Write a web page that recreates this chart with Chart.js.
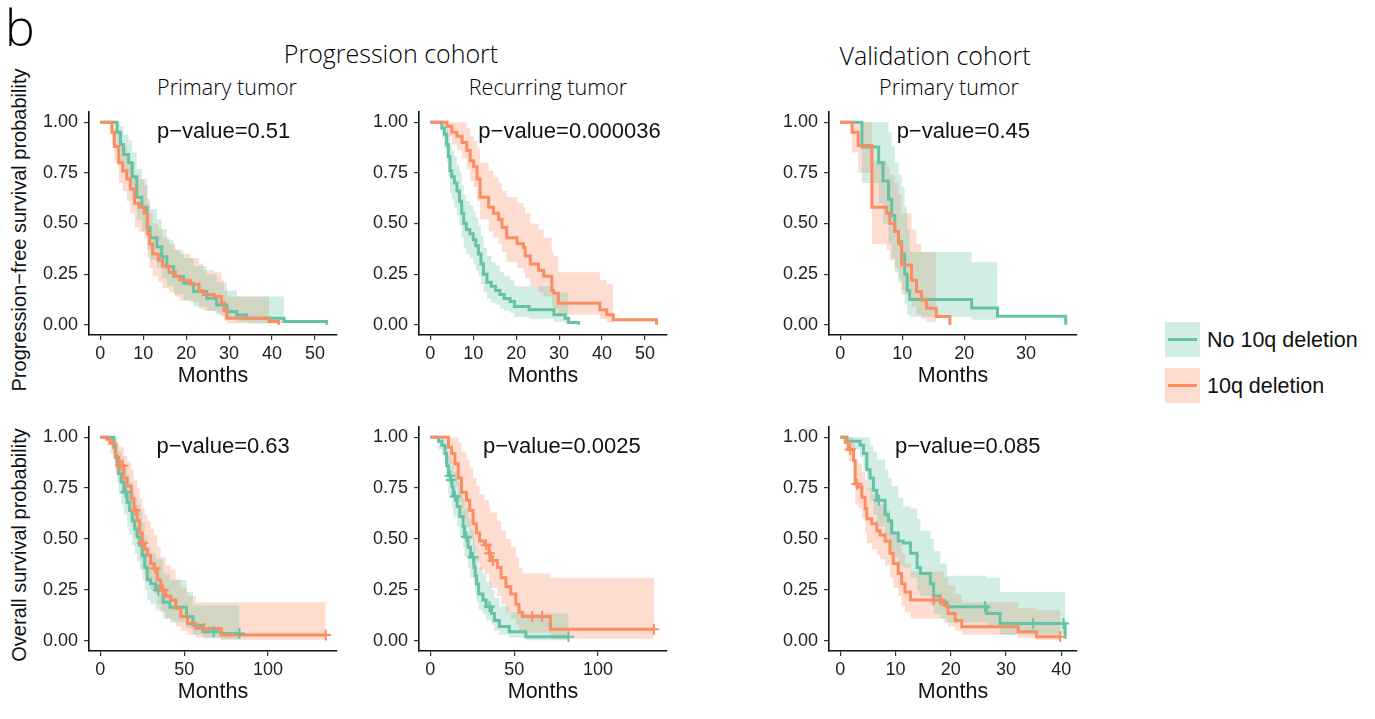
<!DOCTYPE html>
<html>
<head>
<meta charset="utf-8">
<script src="https://cdn.jsdelivr.net/npm/chart.js@4.4.0/dist/chart.umd.min.js"></script>
<style>
  body { margin: 0; background: #fff; }
  #page { position: relative; width: 1375px; height: 719px; overflow: hidden; background: #fff;
          font-family: "Liberation Sans", Arial, sans-serif; color: #111; }
  .txt { position: absolute; white-space: nowrap; transform: translate(-50%, -50%); }
  .head { font-family: "Open Sans", sans-serif; font-weight: 300; color: #000; }
  .rot { transform: translate(-50%, -50%) rotate(-90deg); }
  canvas { position: absolute; }
  .lgbox { position: absolute; width: 35px; height: 35px; }
  .lgline { position: absolute; left: 3px; top: 16px; width: 29px; height: 3px; }
</style>
</head>
<body>
<div id="page">
  <div class="txt head" style="left:20px;top:27px;font-size:50px;">b</div>
  <div class="txt head" style="left:391px;top:53px;font-size:25px;">Progression cohort</div>
  <div class="txt head" style="left:935px;top:55px;font-size:25px;">Validation cohort</div>
  <div class="txt head" style="left:227px;top:86px;font-size:21.5px;">Primary tumor</div>
  <div class="txt head" style="left:548px;top:86px;font-size:21.5px;">Recurring tumor</div>
  <div class="txt head" style="left:949px;top:86px;font-size:21.5px;">Primary tumor</div>
  <div class="txt rot" style="left:19px;top:230px;font-size:20px;">Progression−free survival probability</div>
  <div class="txt rot" style="left:19px;top:545px;font-size:20px;">Overall survival probability</div>

  <div class="lgbox" style="left:1165px;top:322px;background:rgba(102,194,165,0.3);"><div class="lgline" style="background:#66C2A5;"></div></div>
  <div class="txt" style="left:1207px;top:340px;font-size:21.5px;transform:translate(0,-50%);">No 10q deletion</div>
  <div class="lgbox" style="left:1165px;top:368px;background:rgba(252,141,98,0.3);"><div class="lgline" style="background:#FC8D62;"></div></div>
  <div class="txt" style="left:1207px;top:386px;font-size:21.5px;transform:translate(0,-50%);">10q deletion</div>
</div>
<script>
// COLORES
const GREEN = "#66C2A5", ORANGE = "#FC8D62";
const GREEN_BAND = "rgba(102,194,165,0.3)", ORANGE_BAND = "rgba(252,141,98,0.3)";

// EJES
const yTicks = [0, 0.25, 0.5, 0.75, 1];
const yTickLabels = ["0.00", "0.25", "0.50", "0.75", "1.00"];
const xTicks50 = [0, 10, 20, 30, 40, 50];
const xTicks30 = [0, 10, 20, 30];
const xTicks100 = [0, 50, 100];
const xTicks40 = [0, 10, 20, 30, 40];
const pValues = ["0.51", "0.000036", "0.45", "0.63", "0.0025", "0.085"];

// PANEL 1: progression cohort, primary tumor, PFS
const p1NoT = [0,3.9,4.7,5.4,6.6,7.4,8.5,9.7,10.9,11.6,13.2,14.3,15.5,17.1,19.4,21.7,24.8,27.1,29.5,31.8,34.1,42.8,52.7];
const p1NoS = [1,.95,.89,.84,.80,.73,.63,.58,.48,.43,.385,.336,.287,.238,.205,.164,.131,.098,.066,.049,.033,.016,0];
const p1NoU = [1,1,.98,.94,.91,.85,.77,.72,.62,.57,.52,.47,.42,.37,.33,.29,.25,.21,.17,.14,.14,.12,null];
const p1NoL = [1,.89,.81,.75,.70,.62,.52,.46,.37,.32,.28,.23,.19,.15,.12,.09,.07,.05,.025,.015,.008,.004,null];
const p1DelT = [0,2.7,3.3,4.3,5.2,6.2,7.0,8.0,9.0,10.2,11.0,11.5,12.2,13.5,14.5,16.0,17.5,18.5,21.0,23.0,24.0,26.5,28.2,28.8,29.5,39.3,41.5];
const p1DelS = [1,.95,.88,.80,.76,.72,.67,.60,.58,.55,.45,.40,.35,.32,.29,.26,.24,.22,.20,.17,.15,.14,.11,.07,.033,.016,0];
const p1DelU = [1,1,.97,.91,.88,.84,.80,.74,.72,.69,.60,.55,.50,.47,.43,.40,.37,.35,.33,.30,.27,.26,.22,.17,.14,.14,null];
const p1DelL = [1,.89,.80,.70,.66,.61,.55,.48,.46,.43,.33,.28,.24,.21,.18,.16,.14,.12,.11,.08,.07,.06,.04,.02,.008,.003,null];

// PANEL 2: progression cohort, recurring tumor, PFS
const p2NoT = [0,2.7,3.3,3.8,4.2,4.6,5.0,5.6,6.2,6.8,7.3,7.8,8.4,9.2,10.0,10.6,11.2,11.8,12.4,13.2,14.2,15.2,16.2,17.2,18.6,19.6,23.0,28.8,31.4,32.2,34.5];
const p2NoS = [1,.97,.94,.89,.83,.76,.73,.70,.66,.61,.55,.50,.47,.45,.42,.39,.35,.30,.25,.21,.19,.17,.15,.13,.115,.09,.074,.05,.033,.012,0];
const p2NoU = [1,1,1,.98,.94,.89,.86,.83,.79,.75,.69,.64,.61,.59,.56,.53,.49,.44,.38,.34,.31,.29,.26,.24,.22,.19,.19,.16,.16,.15,null];
const p2NoL = [1,.92,.87,.80,.73,.65,.62,.58,.54,.49,.43,.38,.35,.33,.30,.27,.24,.20,.16,.13,.11,.10,.08,.07,.06,.04,.03,.015,.005,.002,null];
const p2DelT = [0,3.9,5.0,6.2,7.4,8.5,9.3,10.1,10.9,11.6,13.6,14.7,15.9,16.7,17.8,20.2,21.7,22.1,23.3,25.2,26.4,28.3,28.7,29.8,39.5,41.1,42.6,52.7];
const p2DelS = [1,.98,.95,.93,.90,.86,.81,.78,.72,.63,.58,.55,.52,.48,.43,.40,.38,.34,.30,.27,.24,.17,.156,.107,.074,.05,.025,0];
const p2DelU = [1,1,1,1,1,.97,.93,.91,.87,.80,.76,.73,.70,.66,.63,.60,.58,.55,.50,.47,.43,.36,.34,.26,.22,.20,.18,null];
const p2DelL = [1,.93,.89,.86,.82,.77,.71,.68,.61,.52,.46,.43,.40,.36,.31,.28,.26,.23,.19,.16,.14,.09,.08,.05,.03,.012,.004,null];

// PANEL 3: validation cohort, primary tumor, PFS
const p3NoT = [0,3.5,6.2,6.9,7.8,8.3,8.8,9.4,9.9,10.4,10.8,11.2,21.2,25.4,36.4];
const p3NoS = [1,.877,.80,.71,.62,.54,.46,.41,.35,.25,.17,.125,.083,.042,0];
const p3NoU = [1,1,1,1,.95,.88,.80,.74,.68,.58,.47,.36,.31,.2,null];
const p3NoL = [1,.70,.60,.50,.40,.33,.26,.21,.17,.10,.05,.04,.025,.01,null];
const p3DelT = [0,1.9,2.9,5.1,7.5,8.0,8.8,9.4,9.9,11.5,12.3,13.1,13.9,15.5,17.7];
const p3DelS = [1,.95,.885,.58,.55,.50,.46,.40,.295,.22,.164,.123,.082,.041,0];
const p3DelU = [1,1,1,.81,.78,.74,.70,.64,.55,.47,.40,.36,.36,.30,null];
const p3DelL = [1,.85,.75,.40,.37,.32,.28,.23,.15,.09,.05,.03,.015,.005,null];

// PANEL 4: progression cohort, primary tumor, OS
const p4NoT = [0,8,9,10,11,12.5,14,16,17.5,19,20.5,22,23.5,25,26.5,28,30,33,37.5,41.5,51.4,55.3,61.3,72,83];
const p4NoS = [1,.95,.91,.87,.82,.78,.73,.68,.64,.59,.55,.51,.47,.42,.36,.30,.28,.25,.19,.165,.12,.077,.045,.036,.036];
const p4NoU = [1,1,1,.97,.93,.90,.86,.82,.78,.74,.70,.67,.63,.58,.52,.46,.43,.40,.33,.30,.24,.175,.175,.175,.175];
const p4NoL = [1,.90,.84,.78,.72,.67,.62,.56,.52,.47,.43,.39,.35,.30,.25,.20,.18,.15,.11,.09,.06,.03,.012,.008,.008];
const p4NoCensT = [15.2, 34.6, 67.6, 83];
const p4NoCensS = [.73, .25, .045, .036];
const p4DelT = [0,4,6,9,11,14,16,18.5,20,22,23.5,25,26.5,28,30,32,34,36,39,42,45,48,52,57,72,134.4];
const p4DelS = [1,.99,.97,.90,.86,.80,.76,.70,.64,.59,.53,.48,.45,.42,.38,.355,.30,.25,.22,.20,.16,.12,.085,.06,.028,.028];
const p4DelU = [1,1,1,.97,.95,.91,.88,.84,.79,.75,.70,.65,.62,.59,.55,.52,.46,.41,.37,.35,.30,.26,.22,.19,.19,.19];
const p4DelL = [1,.96,.92,.82,.77,.70,.65,.58,.51,.46,.40,.35,.32,.29,.25,.23,.18,.14,.11,.10,.07,.05,.03,.015,.005,.005];
const p4DelCensT = [12, 13.5, 21, 25.3, 32.6, 37.5, 62, 134.4];
const p4DelCensS = [.86, .86, .64, .48, .355, .25, .06, .028];

// PANEL 5: progression cohort, recurring tumor, OS
const p5NoT = [0,4.9,6.9,8.8,9.8,10.8,12.2,13.0,13.7,16.0,17.6,19.6,20.4,22.5,24.0,26.0,26.8,27.6,28.8,31.4,33.3,36.5,38.2,41.2,47.1,56.9,82.4];
const p5NoS = [1,.98,.96,.92,.86,.81,.79,.755,.71,.66,.61,.56,.51,.46,.41,.36,.32,.28,.23,.20,.167,.134,.10,.07,.044,.02,.02];
const p5NoU = [1,1,1,.99,.95,.91,.89,.86,.83,.78,.74,.70,.65,.60,.55,.50,.46,.42,.36,.33,.29,.25,.21,.17,.14,.134,.134];
const p5NoL = [1,.94,.91,.86,.78,.72,.70,.66,.61,.56,.51,.46,.41,.36,.31,.27,.23,.19,.15,.13,.10,.08,.05,.03,.015,.003,.003];
const p5NoCensT = [11.8, 12.5, 14.7, 21.6, 25.5, 35.3, 82.4];
const p5NoCensS = [.81, .79, .71, .51, .41, .167, .02];
const p5DelT = [0,10.8,12.7,14.7,16.7,18.6,21.6,23.5,25.5,27.5,29.4,32.4,35.0,35.8,40,42.2,45.1,48.0,51.0,52.9,54.9,71.6,133.3];
const p5DelS = [1,.95,.92,.87,.80,.73,.69,.64,.575,.53,.49,.47,.43,.395,.36,.31,.265,.23,.18,.14,.12,.057,.057];
const p5DelU = [1,1,1,1,.97,.93,.89,.85,.80,.76,.72,.69,.66,.63,.59,.54,.50,.46,.41,.36,.33,.31,.31];
const p5DelL = [1,.87,.82,.76,.68,.60,.56,.50,.44,.39,.35,.33,.29,.26,.22,.18,.14,.11,.08,.05,.04,.01,.01];
const p5DelCensT = [33.3, 35.3, 37.3, 60.8, 66.7, 133.3];
const p5DelCensS = [.47, .43, .395, .12, .12, .057];

// PANEL 6: validation cohort, primary tumor, OS
const p6NoT = [0,1.2,3.6,4.2,4.8,5.4,6.0,6.6,8.1,8.7,9.3,10.5,11.4,12.7,13.9,14.5,16.3,16.9,18.1,19.3,26.5,28.9,40.7];
const p6NoS = [1,.98,.96,.92,.84,.80,.74,.69,.62,.59,.53,.49,.48,.43,.36,.33,.28,.22,.19,.167,.134,.085,.01];
const p6NoU = [1,1,1,1,1,.96,.93,.89,.84,.80,.76,.70,.66,.65,.60,.54,.50,.44,.38,.32,.31,.24,.24];
const p6NoL = [1,.94,.90,.84,.74,.69,.62,.56,.51,.47,.41,.37,.36,.31,.25,.22,.18,.13,.11,.09,.07,.03,.01];
const p6NoCensT = [7.0, 26.2, 34.9, 40.4];
const p6NoCensS = [.69, .167, .085, .085];
const p6DelT = [0,0.9,1.5,2.4,2.7,3.3,3.9,4.5,4.8,5.7,6.6,7.2,8.1,9.0,9.6,10.5,11.1,11.7,12.7,18.7,19.5,20.8,22.0,32.2,35.5,39.8];
const p6DelS = [1,.975,.94,.885,.77,.755,.705,.65,.60,.575,.54,.52,.49,.43,.38,.33,.28,.24,.20,.175,.134,.10,.069,.044,.02,.02];
const p6DelU = [1,1,1,.96,.88,.87,.83,.79,.75,.72,.69,.67,.64,.58,.53,.48,.43,.38,.34,.31,.27,.23,.19,.16,.15,.15];
const p6DelL = [1,.93,.88,.81,.67,.65,.60,.53,.48,.45,.42,.40,.37,.31,.26,.22,.17,.14,.11,.09,.07,.05,.03,.015,.004,.004];
const p6DelCensT = [1.8, 3.0, 16.9, 18.1, 39.8];
const p6DelCensS = [.94, .77, .20, .20, .02];

// MEDIDAS (area del grafico en px de la pagina)
const YW = 60, XH = 55, PT = 20, PR = 12;
const FONT = '"Liberation Sans", Arial, sans-serif';

const panels = [
  { box: [89, 112, 337, 335], xr: [-2.625, 55.125], ticks: xTicks50, p: 0, at: [13.2, 0.952],
    no: [p1NoT, p1NoS, p1NoU, p1NoL, [], []], del: [p1DelT, p1DelS, p1DelU, p1DelL, [], []] },
  { box: [419, 112, 667, 335], xr: [-2.625, 55.125], ticks: xTicks50, p: 1, at: [11.2, 0.952],
    no: [p2NoT, p2NoS, p2NoU, p2NoL, [], []], del: [p2DelT, p2DelS, p2DelU, p2DelL, [], []] },
  { box: [829, 112, 1077, 335], xr: [-1.82, 38.22], ticks: xTicks30, p: 2, at: [9.1, 0.952],
    no: [p3NoT, p3NoS, p3NoU, p3NoL, [], []], del: [p3DelT, p3DelS, p3DelU, p3DelL, [], []] },
  { box: [89, 427, 337, 651], xr: [-6.72, 141.12], ticks: xTicks100, p: 3, at: [33.5, 0.952],
    no: [p4NoT, p4NoS, p4NoU, p4NoL, p4NoCensT, p4NoCensS], del: [p4DelT, p4DelS, p4DelU, p4DelL, p4DelCensT, p4DelCensS] },
  { box: [419, 427, 667, 651], xr: [-6.72, 141.12], ticks: xTicks100, p: 4, at: [31.4, 0.952],
    no: [p5NoT, p5NoS, p5NoU, p5NoL, p5NoCensT, p5NoCensS], del: [p5DelT, p5DelS, p5DelU, p5DelL, p5DelCensT, p5DelCensS] },
  { box: [829, 427, 1077, 651], xr: [-2.04, 42.84], ticks: xTicks40, p: 5, at: [9.9, 0.952],
    no: [p6NoT, p6NoS, p6NoU, p6NoL, p6NoCensT, p6NoCensS], del: [p6DelT, p6DelS, p6DelU, p6DelL, p6DelCensT, p6DelCensS] }
];

function pts(T, V) {
  return T.map((t, i) => ({ x: t, y: V[i] }));
}

// TEXTO DEL P-VALUE
const pvalPlugin = {
  id: "pval",
  afterDraw(chart, args, opts) {
    const { ctx, scales } = chart;
    ctx.save();
    ctx.font = "22px " + FONT;
    ctx.fillStyle = "#111";
    ctx.textAlign = "left";
    ctx.textBaseline = "middle";
    ctx.fillText(opts.text, scales.x.getPixelForValue(opts.at[0]), scales.y.getPixelForValue(opts.at[1]));
    ctx.restore();
  }
};

function makeChart(p) {
  const [l, t, r, b] = p.box;
  const w = r - l + YW + PR, h = b - t + PT + XH;
  const cv = document.createElement("canvas");
  cv.width = w; cv.height = h;
  cv.style.left = (l - YW) + "px"; cv.style.top = (t - PT) + "px";
  cv.style.width = w + "px"; cv.style.height = h + "px";
  document.getElementById("page").appendChild(cv);

  const line = (d, color, order) => ({
    data: pts(d[0], d[1]), borderColor: color, borderWidth: 3, stepped: true,
    pointRadius: 0, fill: false, order
  });
  const cens = (d, color, order) => ({
    data: pts(d[4], d[5]), showLine: false, pointStyle: "cross", pointRadius: 5.5,
    pointBorderWidth: 2, borderColor: color, pointBorderColor: color, order
  });
  const bandTop = (d, color, target, order) => ({
    data: pts(d[0], d[2]), borderWidth: 0, borderColor: "transparent", stepped: true,
    pointRadius: 0, backgroundColor: color, fill: { target }, order
  });
  const bandBot = (d, order) => ({
    data: pts(d[0], d[3]), borderWidth: 0, borderColor: "transparent", stepped: true,
    pointRadius: 0, fill: false, order
  });

  const grid = { display: true, drawOnChartArea: false, drawTicks: true, tickLength: 5, color: "#333", lineWidth: 1.2 };
  const border = { display: true, color: "#111", width: 1.6 };

  new Chart(cv, {
    type: "line",
    data: {
      datasets: [
        cens(p.del, ORANGE, 0),
        cens(p.no, GREEN, 1),
        line(p.del, ORANGE, 2),
        line(p.no, GREEN, 3),
        bandTop(p.no, GREEN_BAND, 5, 4),
        bandBot(p.no, 5),
        bandTop(p.del, ORANGE_BAND, 7, 6),
        bandBot(p.del, 7)
      ]
    },
    options: {
      responsive: false,
      animation: false,
      layout: { padding: { top: PT, right: PR, left: 0, bottom: 0 } },
      plugins: {
        legend: { display: false },
        tooltip: { enabled: false },
        filler: { drawTime: "beforeDatasetsDraw" },
        pval: { text: "p−value=" + pValues[p.p], at: p.at }
      },
      scales: {
        x: {
          type: "linear", min: p.xr[0], max: p.xr[1],
          afterBuildTicks: (s) => { s.ticks = p.ticks.map((v) => ({ value: v })); },
          afterFit: (s) => { s.height = XH; },
          ticks: { font: { size: 18, family: FONT }, color: "#222", padding: 3, maxRotation: 0, autoSkip: false,
                   callback: (v) => String(v) },
          grid, border,
          title: { display: true, text: "Months", color: "#111", font: { size: 21.5, family: FONT }, padding: { top: 0, bottom: 1 } }
        },
        y: {
          type: "linear", min: -0.05, max: 1.05,
          afterBuildTicks: (s) => { s.ticks = yTicks.map((v) => ({ value: v })); },
          afterFit: (s) => { s.width = YW; },
          ticks: { font: { size: 18, family: FONT }, color: "#222", padding: 6, autoSkip: false,
                   callback: (v) => yTickLabels[yTicks.indexOf(v)] },
          grid, border
        }
      }
    },
    plugins: [pvalPlugin]
  });
}

panels.forEach(makeChart);
</script>
</body>
</html>
